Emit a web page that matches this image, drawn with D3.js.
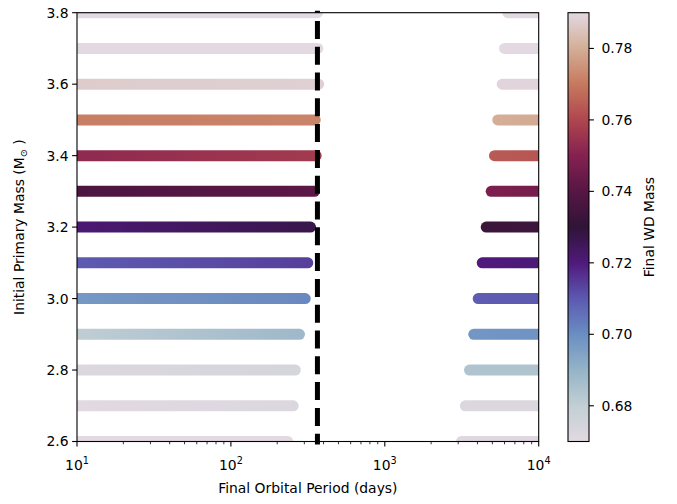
<!DOCTYPE html>
<html>
<head>
<meta charset="utf-8">
<style>
  body { margin: 0; background: #fff; }
  text { font-family: "DejaVu Sans", sans-serif; fill: #000; }
</style>
</head>
<body>
<script src="https://cdn.jsdelivr.net/npm/d3@7"></script>
<script>
// rows of the grid: initial primary mass
var masses = [2.6, 2.7, 2.8, 2.9, 3.0, 3.1, 3.2, 3.3, 3.4, 3.5, 3.6, 3.7, 3.8];
// short-period branch: longest final period reached (days) and WD mass at both ends
var shortPeriodEnd = [234, 254, 262, 279, 304, 316, 329, 349, 358, 353, 372, 367, 365];
var shortWdStart = [0.668, 0.670, 0.672, 0.680, 0.697, 0.709, 0.721, 0.737, 0.752, 0.771, 0.787, 0.795, 0.795];
var shortWdEnd   = [0.670, 0.672, 0.674, 0.688, 0.701, 0.714, 0.727, 0.741, 0.757, 0.772, 0.788, 0.795, 0.795];
// long-period branch: shortest final period reached (days) and WD mass at both ends
var longPeriodStart = [3150, 3340, 3550, 3785, 4045, 4295, 4560, 4910, 5160, 5420, 5790, 6000, 6300];
var longWdStart = [0.671, 0.672, 0.684, 0.698, 0.709, 0.720, 0.733, 0.748, 0.764, 0.780, 0.789, 0.795, 0.795];
var longWdEnd   = [0.671, 0.672, 0.684, 0.699, 0.710, 0.721, 0.734, 0.746, 0.763, 0.779, 0.789, 0.795, 0.795];
// both branches run off the plotted period range
var periodFloor = 8, periodCeil = 12500;
var oneYear = 365;

// twilight colormap, sampled along the colorbar
var cmapValues = [0.67, 0.68, 0.69, 0.70, 0.71, 0.72, 0.73, 0.74, 0.75, 0.76, 0.77, 0.78, 0.79];
var cmapColors = ["#e2d9e2", "#c2cfd4", "#95b4c7", "#6a8ec2", "#5d58b1", "#4f1a7c", "#301437",
                  "#571645", "#852150", "#af464f", "#c6795e", "#d4ae97", "#e2d9e2"];

var xTicks = [10, 100, 1000, 10000];
var yTicks = [2.6, 2.8, 3.0, 3.2, 3.4, 3.6, 3.8];
var cbarTicks = [0.68, 0.70, 0.72, 0.74, 0.76, 0.78];

var W = 677, H = 504;
var margin = {top: 12.7, left: 77, right: 138.3, bottom: 62.5};
var width = W - margin.left - margin.right,
    height = H - margin.top - margin.bottom;

var svg = d3.select("body").append("svg")
  .attr("width", W).attr("height", H);
var defs = svg.append("defs");

var x = d3.scaleLog().domain([10, 10000]).range([0, width]);
var y = d3.scaleLinear().domain([2.6, 3.8]).range([height, 0]);
var color = d3.scaleLinear().domain(cmapValues).range(cmapColors)
  .interpolate(d3.interpolateRgb).clamp(true);

defs.append("clipPath").attr("id", "plotclip")
  .append("rect").attr("width", width).attr("height", height);

var g = svg.append("g").attr("transform", "translate(" + margin.left + "," + margin.top + ")");
var marks = g.append("g").attr("clip-path", "url(#plotclip)");

// build segments from the arrays
var segs = [];
masses.forEach(function(m, i) {
  segs.push({m: m, p0: periodFloor, p1: shortPeriodEnd[i], c0: shortWdStart[i], c1: shortWdEnd[i]});
  segs.push({m: m, p0: longPeriodStart[i], p1: periodCeil, c0: longWdStart[i], c1: longWdEnd[i]});
});

segs.forEach(function(d, i) {
  var gr = defs.append("linearGradient").attr("id", "seg" + i)
    .attr("gradientUnits", "userSpaceOnUse")
    .attr("x1", x(d.p0)).attr("x2", x(d.p1)).attr("y1", 0).attr("y2", 0);
  gr.append("stop").attr("offset", 0).attr("stop-color", color(d.c0));
  gr.append("stop").attr("offset", 1).attr("stop-color", color(d.c1));
});

marks.selectAll(".seg").data(segs).enter().append("line")
  .attr("class", "seg")
  .attr("x1", function(d) { return x(d.p0); })
  .attr("x2", function(d) { return x(d.p1); })
  .attr("y1", function(d) { return y(d.m); })
  .attr("y2", function(d) { return y(d.m); })
  .attr("stroke", function(d, i) { return "url(#seg" + i + ")"; })
  .attr("stroke-width", 11)
  .attr("stroke-linecap", "round");

// one-year dashed line
g.append("line")
  .attr("x1", x(oneYear)).attr("x2", x(oneYear))
  .attr("y1", y(3.8) - 2).attr("y2", y(2.6) + 3)
  .attr("stroke", "#000").attr("stroke-width", 5)
  .attr("stroke-dasharray", "18,7.8")
  .attr("stroke-dashoffset", 15.6);

// axes frame
g.append("rect").attr("width", width).attr("height", height)
  .attr("fill", "none").attr("stroke", "#000").attr("stroke-width", 1.1);

// x ticks (log, with minors)
var minor = [];
[10, 100, 1000].forEach(function(dec) {
  for (var k = 2; k <= 9; k++) minor.push(dec * k);
});
g.selectAll(".xminor").data(minor).enter().append("line")
  .attr("x1", function(d) { return x(d); }).attr("x2", function(d) { return x(d); })
  .attr("y1", height).attr("y2", height + 2.8)
  .attr("stroke", "#000").attr("stroke-width", 0.8);
g.selectAll(".xmajor").data(xTicks).enter().append("line")
  .attr("x1", function(d) { return x(d); }).attr("x2", function(d) { return x(d); })
  .attr("y1", height).attr("y2", height + 4.9)
  .attr("stroke", "#000").attr("stroke-width", 1.1);
var xl = g.selectAll(".xlab").data(xTicks).enter().append("text")
  .attr("x", function(d) { return x(d); })
  .attr("y", height + 28.5)
  .attr("text-anchor", "middle")
  .style("font-size", "13.9px");
xl.append("tspan").text("10");
xl.append("tspan").attr("dy", -6).style("font-size", "9.7px")
  .text(function(d) { return Math.round(Math.log10(d)); });

// y ticks
g.selectAll(".ytick").data(yTicks).enter().append("line")
  .attr("x1", -4.9).attr("x2", 0)
  .attr("y1", function(d) { return y(d); }).attr("y2", function(d) { return y(d); })
  .attr("stroke", "#000").attr("stroke-width", 1.1);
g.selectAll(".ylab").data(yTicks).enter().append("text")
  .attr("x", -8.5)
  .attr("y", function(d) { return y(d); })
  .attr("dy", "0.36em")
  .attr("text-anchor", "end")
  .style("font-size", "13.9px")
  .text(function(d) { return d.toFixed(1); });

// axis titles
g.append("text")
  .attr("x", width / 2).attr("y", height + 51.5)
  .attr("text-anchor", "middle").style("font-size", "13.9px")
  .text("Final Orbital Period (days)");
var yt = g.append("text")
  .attr("transform", "translate(-53," + (height / 2) + ") rotate(-90)")
  .attr("text-anchor", "middle").style("font-size", "13.9px");
yt.append("tspan").text("Initial Primary Mass (M");
yt.append("tspan").attr("dy", 3).style("font-size", "9.7px").text("\u2299");
yt.append("tspan").attr("dy", -3).text(" )");

// colorbar
var cb = svg.append("g").attr("transform", "translate(568," + margin.top + ")");
var cbW = 21;
var cy = d3.scaleLinear().domain([0.67, 0.79]).range([height, 0]);
var cgrad = defs.append("linearGradient").attr("id", "cbar")
  .attr("x1", 0).attr("x2", 0).attr("y1", 1).attr("y2", 0);
d3.range(0, 1.0001, 1 / 60).forEach(function(t) {
  cgrad.append("stop").attr("offset", t)
    .attr("stop-color", color(0.67 + t * 0.12));
});
cb.append("rect").attr("width", cbW).attr("height", height)
  .attr("fill", "url(#cbar)").attr("stroke", "#000").attr("stroke-width", 1.1);
cb.selectAll(".ctick").data(cbarTicks).enter().append("line")
  .attr("x1", cbW).attr("x2", cbW + 4.9)
  .attr("y1", function(d) { return cy(d); }).attr("y2", function(d) { return cy(d); })
  .attr("stroke", "#000").attr("stroke-width", 1.1);
cb.selectAll(".clab").data(cbarTicks).enter().append("text")
  .attr("x", cbW + 12.5)
  .attr("y", function(d) { return cy(d); })
  .attr("dy", "0.36em")
  .style("font-size", "13.9px")
  .text(function(d) { return d.toFixed(2); });
cb.append("text")
  .attr("transform", "translate(" + (cbW + 65) + "," + (height / 2) + ") rotate(-90)")
  .attr("text-anchor", "middle").style("font-size", "13.9px")
  .text("Final WD Mass");
</script>
</body>
</html>
